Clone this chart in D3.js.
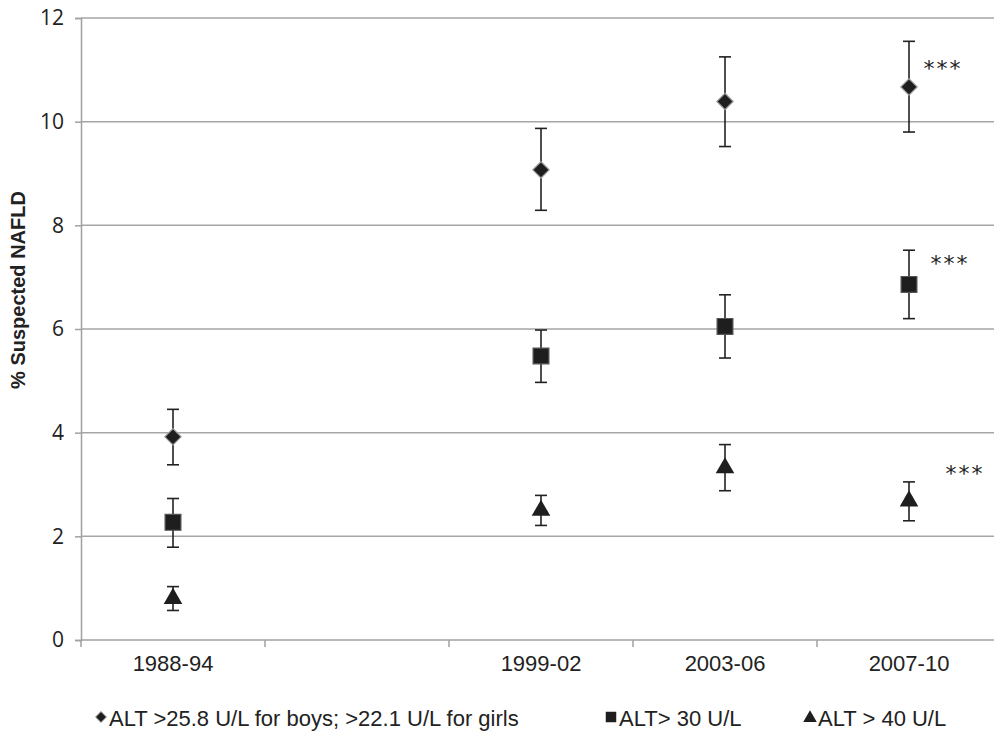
<!DOCTYPE html>
<html>
<head>
<meta charset="utf-8">
<script src="https://cdn.jsdelivr.net/npm/d3@7"></script>
<style>
  body { margin: 0; background: #fff; }
  svg { display: block; font-family: "Liberation Sans Narrow", "Liberation Sans", Arial, sans-serif; }
</style>
</head>
<body>
<svg width="994" height="735"></svg>
<script>
// categories (the second slot is an empty period on the axis)
var periods = ["1988-94", "", "1999-02", "2003-06", "2007-10"];
var yTicks = [0, 2, 4, 6, 8, 10, 12];

// series: value, lower and upper error bar
var altSex = [
  {p: "1988-94", v: 3.92, lo: 3.38, hi: 4.45},
  {p: "1999-02", v: 9.07, lo: 8.29, hi: 9.87},
  {p: "2003-06", v: 10.39, lo: 9.52, hi: 11.25},
  {p: "2007-10", v: 10.67, lo: 9.8, hi: 11.55}
];
var alt30 = [
  {p: "1988-94", v: 2.27, lo: 1.79, hi: 2.73},
  {p: "1999-02", v: 5.48, lo: 4.97, hi: 5.98},
  {p: "2003-06", v: 6.05, lo: 5.44, hi: 6.66},
  {p: "2007-10", v: 6.86, lo: 6.2, hi: 7.52}
];
var alt40 = [
  {p: "1988-94", v: 0.8, lo: 0.57, hi: 1.03},
  {p: "1999-02", v: 2.5, lo: 2.21, hi: 2.79},
  {p: "2003-06", v: 3.32, lo: 2.88, hi: 3.77},
  {p: "2007-10", v: 2.68, lo: 2.3, hi: 3.05}
];
var seriesNames = ["ALT >25.8 U/L for boys; >22.1 U/L for girls", "ALT> 30 U/L", "ALT > 40 U/L"];
// significance marks next to the last period
var stars = [
  {p: "2007-10", v: 11.13, dx: 34},
  {p: "2007-10", v: 7.37, dx: 41},
  {p: "2007-10", v: 3.33, dx: 56}
];

var svg = d3.select("svg"),
    plotLeft = 81, plotRight = 1001, plotTop = 18, plotBottom = 640;

var x = d3.scaleBand().domain(periods).range([plotLeft, plotRight]).padding(0);
var y = d3.scaleLinear().domain([0, 12]).range([plotBottom, plotTop]);

// gridlines
svg.append("g")
  .selectAll("line")
  .data(yTicks.filter(function(d) { return d > 0; }))
  .enter().append("line")
    .attr("x1", plotLeft).attr("x2", plotRight)
    .attr("y1", function(d) { return y(d); })
    .attr("y2", function(d) { return y(d); })
    .attr("stroke", "#a6a6a6")
    .attr("stroke-width", 1.5);

// y axis
var yAxis = svg.append("g")
  .attr("transform", "translate(" + plotLeft + ",0)")
  .call(d3.axisLeft(y).tickValues(yTicks).tickSize(6).tickPadding(11));
yAxis.select(".domain").attr("stroke", "#a0a0a0").attr("stroke-width", 1.5);
yAxis.selectAll(".tick line").attr("stroke", "#a0a0a0").attr("stroke-width", 1.5);
yAxis.selectAll("text")
  .attr("font-family", "'Open Sans', sans-serif")
  .attr("font-size", 21)
  .attr("fill", "#222");

// x axis line with ticks on the band edges
svg.append("line")
  .attr("x1", plotLeft).attr("x2", plotRight)
  .attr("y1", plotBottom).attr("y2", plotBottom)
  .attr("stroke", "#a0a0a0").attr("stroke-width", 1.5);
svg.append("g")
  .selectAll("line")
  .data(periods)
  .enter().append("line")
    .attr("x1", function(d) { return x(d); })
    .attr("x2", function(d) { return x(d); })
    .attr("y1", plotBottom).attr("y2", plotBottom + 7)
    .attr("stroke", "#a0a0a0").attr("stroke-width", 1.5);
svg.append("g")
  .selectAll("text")
  .data(periods)
  .enter().append("text")
    .attr("x", function(d) { return x(d) + x.bandwidth() / 2; })
    .attr("y", plotBottom + 31)
    .attr("text-anchor", "middle")
    .attr("font-size", 22)
    .attr("fill", "#222")
    .text(function(d) { return d; });

// y label
svg.append("text")
  .attr("transform", "translate(25,290) rotate(-90)")
  .attr("text-anchor", "middle")
  .attr("font-size", 20)
  .attr("font-weight", "bold")
  .attr("fill", "#222")
  .text("% Suspected NAFLD");

var cx = function(d) { return x(d.p) + x.bandwidth() / 2; };

function errorBars(data) {
  var g = svg.append("g").attr("stroke", "#222").attr("stroke-width", 1.6);
  g.selectAll(".stem").data(data).enter().append("line")
    .attr("x1", cx).attr("x2", cx)
    .attr("y1", function(d) { return y(d.lo); })
    .attr("y2", function(d) { return y(d.hi); });
  ["lo", "hi"].forEach(function(k) {
    g.selectAll(".cap-" + k).data(data).enter().append("line")
      .attr("x1", function(d) { return cx(d) - 6; })
      .attr("x2", function(d) { return cx(d) + 6; })
      .attr("y1", function(d) { return y(d[k]); })
      .attr("y2", function(d) { return y(d[k]); });
  });
}

function markers(data, type, size, stroke) {
  svg.append("g")
    .selectAll("path")
    .data(data)
    .enter().append("path")
      .attr("transform", function(d) { return "translate(" + cx(d) + "," + y(d.v) + ")"; })
      .attr("d", d3.symbol().type(type).size(size))
      .attr("fill", "#1e1e1e")
      .attr("stroke", stroke)
      .attr("stroke-width", 1.2);
}

errorBars(altSex);
errorBars(alt30);
errorBars(alt40);
markers(altSex, d3.symbolDiamond2, 170, "#9a9a9a");
markers(alt30, d3.symbolSquare, 250, "#555");
markers(alt40, d3.symbolTriangle, 150, "none");

// significance stars
svg.append("g")
  .selectAll("text")
  .data(stars)
  .enter().append("text")
    .attr("x", function(d) { return cx(d) + d.dx; })
    .attr("y", function(d) { return y(d.v); })
    .attr("dy", "0.6em")
    .attr("text-anchor", "middle")
    .attr("font-family", "'DejaVu Sans', sans-serif")
    .attr("font-size", 22)
    .attr("letter-spacing", 2)
    .attr("fill", "#222")
    .text("***");

// legend
var legendTypes = [d3.symbolDiamond2, d3.symbolSquare, d3.symbolTriangle];
var legendSizes = [75, 110, 80];
var legendX = [101, 611, 810];
var legend = svg.append("g").attr("transform", "translate(0,718)");
seriesNames.forEach(function(name, i) {
  legend.append("path")
    .attr("transform", "translate(" + legendX[i] + "," + (i === 2 ? 0 : -1) + ")")
    .attr("d", d3.symbol().type(legendTypes[i]).size(legendSizes[i]))
    .attr("fill", "#1e1e1e")
    .attr("stroke", i === 0 ? "#9a9a9a" : "none");
  legend.append("text")
    .attr("x", legendX[i] + 8)
    .attr("y", 8)
    .attr("font-size", 22)
    .attr("fill", "#222")
    .text(name);
});
</script>
</body>
</html>
